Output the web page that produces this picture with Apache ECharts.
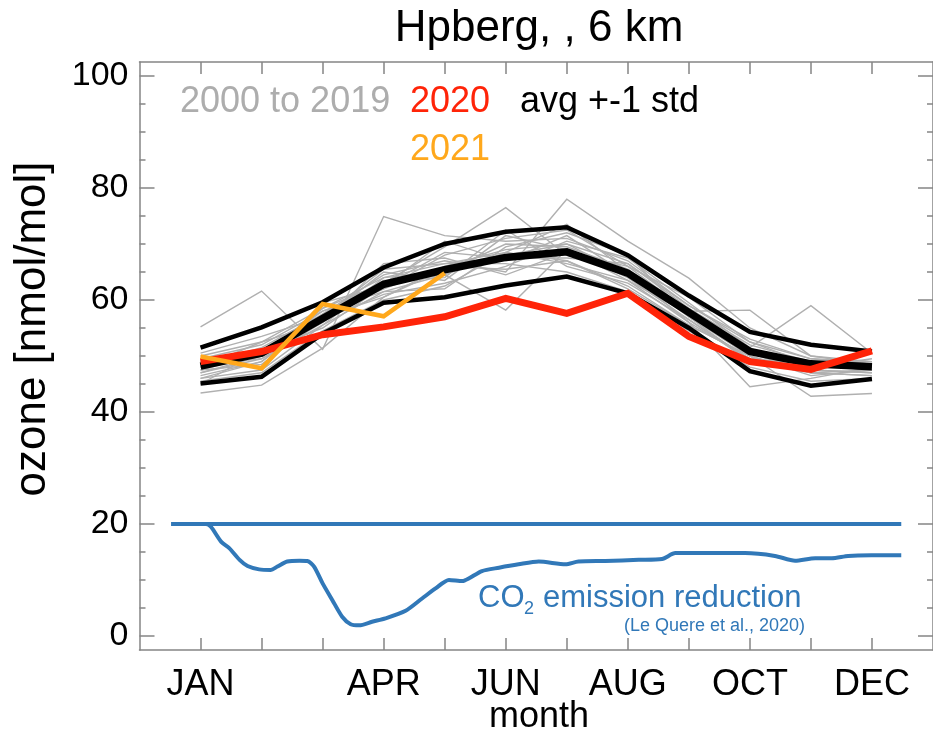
<!DOCTYPE html>
<html>
<head>
<meta charset="utf-8">
<script src="https://cdn.jsdelivr.net/npm/echarts@6/dist/echarts.min.js"></script>
<style>
  html, body { margin: 0; padding: 0; background: #ffffff; }
  #chart { width: 933px; height: 737px; }
</style>
</head>
<body>
<div id="chart"></div>
<script>
// Monthly ozone at Hohenpeissenberg, 6 km, with the 2020 CO2 emission reduction curve
const months = [1, 2, 3, 4, 5, 6, 7, 8, 9, 10, 11, 12];
const monthLabelValues = [1, 4, 6, 8, 10, 12];
const monthLabelTexts = ['JAN', 'APR', 'JUN', 'AUG', 'OCT', 'DEC'];
const yTickValues = [0, 20, 40, 60, 80, 100];
const yMinorTickValues = [0, 5, 10, 15, 20, 25, 30, 35, 40, 45, 50, 55, 60, 65, 70, 75, 80, 85, 90, 95, 100];

// individual years 2000 .. 2019 (nmol/mol)
const years2000to2019 = [
  [55.2, 61.6, 51.2, 74.9, 71.5, 70.5, 71.0, 67.0, 59.0, 52.5, 49.5, 49.0],
  [43.4, 44.8, 51.4, 60.5, 66.0, 69.0, 70.0, 66.5, 58.5, 50.5, 47.5, 47.0],
  [47.0, 49.5, 56.0, 63.0, 69.5, 76.5, 68.0, 65.0, 57.0, 50.0, 46.5, 47.5],
  [48.5, 51.5, 57.5, 64.5, 67.0, 65.0, 78.0, 70.5, 63.9, 55.0, 50.0, 49.0],
  [46.0, 47.5, 55.5, 61.5, 64.5, 58.2, 69.0, 64.0, 56.5, 49.0, 47.0, 46.5],
  [49.5, 52.0, 58.0, 62.0, 68.0, 71.0, 72.5, 66.0, 58.0, 58.2, 50.0, 48.5],
  [50.5, 53.5, 57.0, 65.5, 66.5, 68.5, 66.5, 63.5, 56.0, 44.5, 46.0, 48.0],
  [47.5, 48.5, 56.5, 61.0, 63.0, 66.0, 70.5, 67.5, 59.5, 51.5, 59.0, 50.5],
  [45.5, 47.0, 54.5, 60.0, 62.5, 68.5, 67.0, 62.5, 55.5, 50.0, 42.8, 43.3],
  [48.0, 50.0, 58.5, 64.0, 65.0, 70.0, 69.5, 65.5, 57.5, 51.0, 48.0, 48.5],
  [49.0, 51.0, 55.0, 62.5, 70.5, 67.0, 71.5, 64.5, 58.5, 52.0, 49.0, 47.5],
  [46.5, 49.0, 57.5, 63.5, 64.0, 72.5, 66.0, 63.0, 56.5, 49.5, 48.5, 49.0],
  [50.0, 52.5, 56.0, 66.5, 67.5, 64.5, 68.5, 66.0, 60.5, 52.5, 48.5, 48.0],
  [47.5, 50.5, 58.0, 61.5, 62.0, 69.5, 72.0, 68.0, 57.0, 49.0, 47.5, 47.0],
  [48.5, 49.5, 55.5, 64.0, 66.5, 66.5, 65.0, 61.5, 54.5, 48.0, 45.5, 46.0],
  [45.0, 51.0, 57.0, 60.5, 65.5, 68.0, 70.0, 64.5, 58.0, 51.0, 48.5, 48.0],
  [49.5, 48.0, 59.5, 62.5, 68.5, 67.5, 67.5, 66.5, 59.0, 53.0, 49.5, 48.5],
  [47.0, 50.0, 56.5, 65.0, 63.5, 71.5, 69.0, 63.5, 57.5, 50.5, 47.0, 47.5],
  [48.0, 52.5, 58.5, 63.0, 64.5, 68.5, 73.5, 65.0, 56.0, 49.5, 48.0, 49.5],
  [46.0, 49.0, 57.0, 62.0, 66.0, 65.5, 67.0, 62.0, 55.5, 50.0, 47.0, 46.5]
];

// climatology: average and +-1 standard deviation
const avg = [48.2, 50.5, 56.7, 62.8, 65.4, 67.6, 68.6, 64.8, 57.8, 50.8, 48.6, 48.1];
const avgPlusStd = [51.5, 55.1, 59.6, 65.8, 70.0, 72.2, 73.0, 68.0, 60.8, 54.3, 52.0, 50.8];
const avgMinusStd = [45.1, 46.3, 54.0, 59.5, 60.5, 62.6, 64.2, 61.2, 55.0, 47.3, 44.7, 45.9];

const ozone2020 = [49.0, 50.8, 53.8, 55.2, 57.0, 60.3, 57.6, 61.2, 53.5, 49.0, 47.6, 50.9];
const ozone2021 = [49.9, 47.8, 59.3, 57.1, 64.8];

// CO2 emission reduction curve (offset so that no reduction sits at 20)
const co2Month = [0.52, 1.09, 1.17, 1.34, 1.47, 1.64, 1.77, 1.96, 2.15, 2.26, 2.42, 2.62, 2.75, 2.86,
  3.00, 3.16, 3.32, 3.46, 3.60, 3.81, 4.03, 4.36, 4.63, 4.85, 5.07, 5.29, 5.40, 5.61, 5.89, 6.21,
  6.54, 6.98, 7.19, 7.63, 8.18, 8.56, 8.78, 9.27, 9.92, 10.41, 10.74, 11.07, 11.34, 11.61, 11.99, 12.48];
const co2Value = [20.0, 20.0, 19.5, 16.8, 15.7, 13.6, 12.5, 11.9, 11.8, 12.4, 13.3, 13.45, 13.4, 12.4,
  9.4, 6.4, 3.45, 2.1, 1.9, 2.55, 3.15, 4.5, 6.7, 8.5, 10.0, 9.8, 10.3, 11.6, 12.2, 12.8,
  13.3, 12.8, 13.3, 13.4, 13.6, 13.75, 14.8, 14.8, 14.8, 14.3, 13.45, 13.9, 13.9, 14.3, 14.4, 14.4];
const co2BaselineMonth = [0.52, 12.48];
const co2BaselineValue = [20, 20];

const FONT = "'Liberation Sans', Helvetica, Arial, sans-serif";
const AXIS_GREY = '#858585';
const GREY = '#b0b0b0';
const RED = '#ff2408';
const ORANGE = '#ffa81c';
const BLUE = '#3178b8';

const pair = (xs, ys) => ys.map((v, i) => [xs[i], v]);

const lineSeries = (data, color, width, z, smooth) => ({
  type: 'line',
  data: data,
  symbol: 'none',
  silent: true,
  smooth: smooth || false,
  z: z,
  lineStyle: { color: color, width: width, join: 'miter' },
  xAxisIndex: 0,
  yAxisIndex: 0
});

const series = [];
years2000to2019.forEach(vals => series.push(lineSeries(pair(months, vals), GREY, 1.4, 2)));
series.push(lineSeries(pair(months, avgPlusStd), '#000000', 4.5, 3));
series.push(lineSeries(pair(months, avgMinusStd), '#000000', 4.5, 3));
series.push(lineSeries(pair(months, avg), '#000000', 7.5, 3));
series.push(lineSeries(pair(months, ozone2020), RED, 7, 4));
series.push(lineSeries(pair(months, ozone2021), ORANGE, 4.5, 5));
series.push(lineSeries(pair(co2BaselineMonth, co2BaselineValue), BLUE, 4, 3));
series.push(lineSeries(pair(co2Month, co2Value), BLUE, 4, 3, 0.25));

const yAxisBase = (position, values, len, showLine, showLabel) => ({
  type: 'value',
  position: position,
  min: -2.5,
  max: 102.5,
  splitLine: { show: false },
  axisLine: { show: showLine, onZero: false, lineStyle: { color: AXIS_GREY, width: 1.5 } },
  axisTick: { show: true, inside: true, length: len, customValues: values,
              lineStyle: { color: AXIS_GREY, width: 1.5 } },
  axisLabel: { show: showLabel, customValues: yTickValues, margin: 11,
               color: '#000', fontSize: 34, fontFamily: FONT }
});

const xAxisBase = (position, showLabel) => ({
  type: 'value',
  position: position,
  min: 0,
  max: 13,
  splitLine: { show: false },
  axisLine: { show: true, onZero: false, lineStyle: { color: AXIS_GREY, width: 1.5 } },
  axisTick: { show: true, inside: true, length: 12, customValues: months,
              lineStyle: { color: AXIS_GREY, width: 1.5 } },
  axisLabel: {
    show: showLabel, customValues: monthLabelValues, margin: 17,
    color: '#000', fontSize: 36, fontFamily: FONT,
    formatter: v => monthLabelTexts[monthLabelValues.indexOf(v)] || ''
  }
});

const txt = (x, y, text, color, size, align, extra) => Object.assign({
  type: 'text', x: x, y: y, silent: true, z: 10,
  style: { text: text, fill: color, font: size + 'px ' + FONT, align: align || 'left', verticalAlign: 'middle' }
}, extra || {});

const option = {
  animation: false,
  backgroundColor: '#ffffff',
  grid: { left: 139.5, right: -2, top: 62, bottom: 87, containLabel: false },
  xAxis: [xAxisBase('bottom', true), xAxisBase('top', false)],
  yAxis: [
    yAxisBase('left', yTickValues, 15, true, true),
    yAxisBase('left', yMinorTickValues, 6, false, false),
    yAxisBase('right', yTickValues, 15, true, false),
    yAxisBase('right', yMinorTickValues, 6, false, false)
  ],
  series: series,
  graphic: [
    txt(539, 29, 'Hpberg, , 6 km', '#000', 44, 'center'),
    txt(180, 102, '2000 to 2019', '#adadad', 36),
    txt(410, 102, '2020', RED, 36),
    txt(520, 102, 'avg +-1 std', '#000', 36),
    txt(410, 150, '2021', ORANGE, 36),
    txt(478, 598, 'CO', BLUE, 31),
    txt(524, 609, '2', BLUE, 18),
    txt(543, 598, 'emission reduction', BLUE, 31),
    txt(805, 626, '(Le Quere et al., 2020)', BLUE, 18, 'right'),
    txt(539, 717, 'month', '#000', 36, 'center'),
    txt(33, 329, 'ozone [nmol/mol]', '#000', 44, 'center', { rotation: Math.PI / 2 })
  ]
};

const chart = echarts.init(document.getElementById('chart'), null, { renderer: 'canvas' });
chart.setOption(option);
</script>
</body>
</html>
